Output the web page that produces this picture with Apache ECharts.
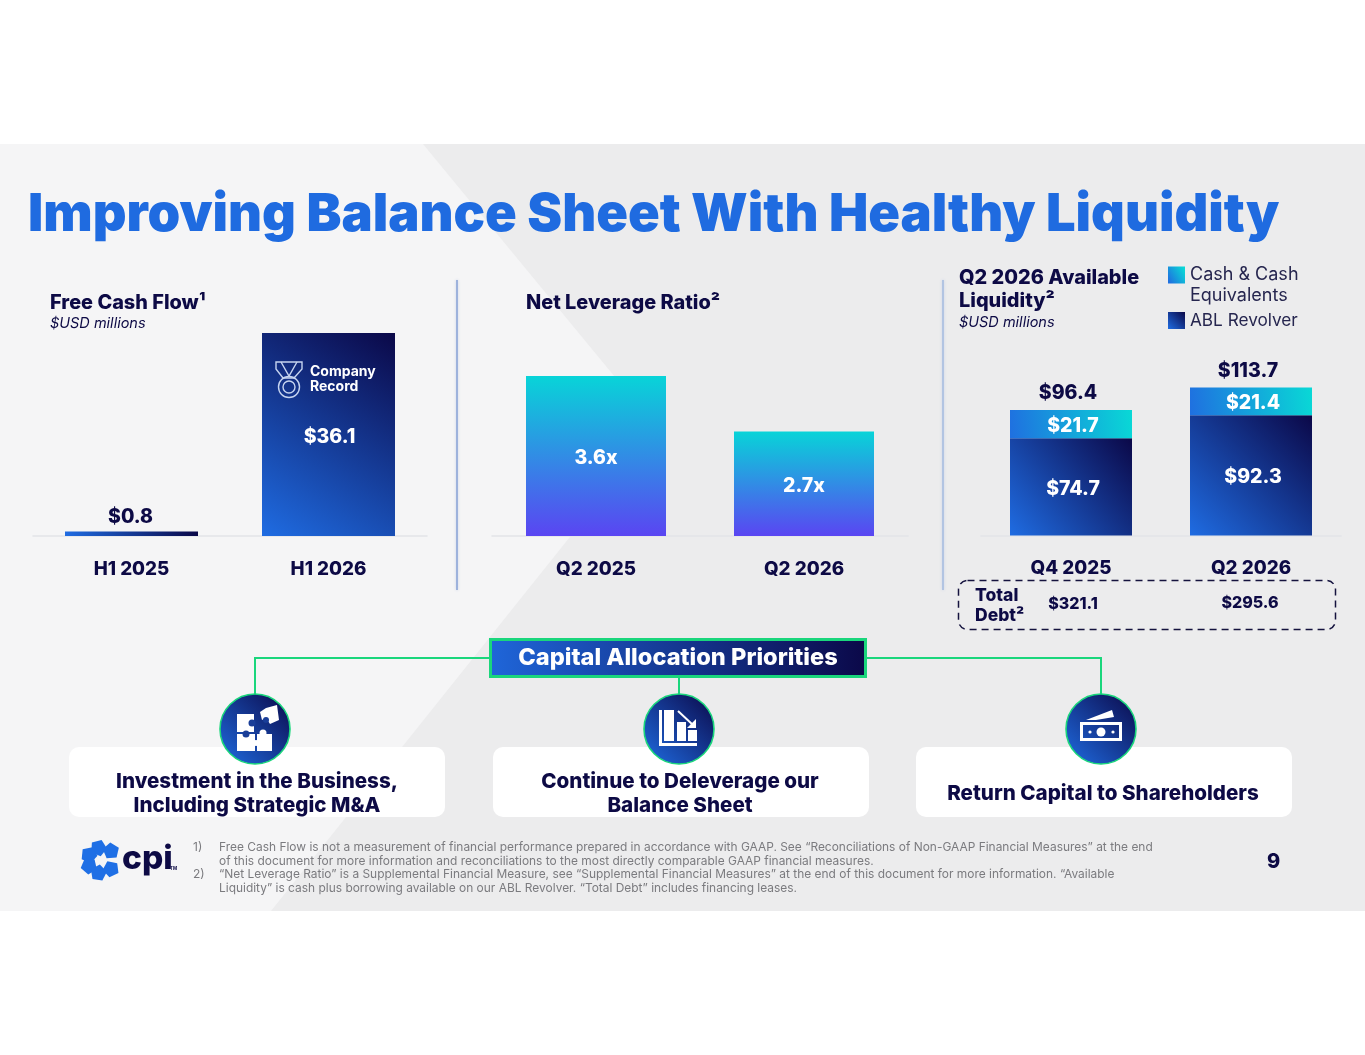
<!DOCTYPE html>
<html><head><meta charset="utf-8"><title>Improving Balance Sheet With Healthy Liquidity</title>
<style>html,body{margin:0;padding:0;background:#fff}#c{width:1365px;height:1055px}</style>
<script src="https://cdn.jsdelivr.net/npm/echarts@6/dist/echarts.min.js"></script></head>
<body><div id="c"></div>
<script>
// ---- data ----
const fcfCategories = ['H1 2025', 'H1 2026'];
const fcfValues = [0.8, 36.1];
const leverageCategories = ['Q2 2025', 'Q2 2026'];
const leverageValues = [3.6, 2.7];
const liquidityCategories = ['Q4 2025', 'Q2 2026'];
const cashValues = [21.7, 21.4];
const ablValues = [74.7, 92.3];
const liquidityTotals = [96.4, 113.7];
const totalDebt = ['$321.1', '$295.6'];
const priorities = ['Investment in the Business,\nIncluding Strategic M&A', 'Continue to Deleverage our\nBalance Sheet', 'Return Capital to Shareholders'];
const footnotes = [
 'Free Cash Flow is not a measurement of financial performance prepared in accordance with GAAP. See \u201cReconciliations of Non-GAAP Financial Measures\u201d at the end',
 'of this document for more information and reconciliations to the most directly comparable GAAP financial measures.',
 '\u201cNet Leverage Ratio\u201d is a Supplemental Financial Measure, see \u201cSupplemental Financial Measures\u201d at the end of this document for more information. \u201cAvailable',
 'Liquidity\u201d is cash plus borrowing available on our ABL Revolver. \u201cTotal Debt\u201d includes financing leases.'
];

// ---- style ----
const FONT = 'Inter, "Open Sans", sans-serif';
const NAVY = '#0D0A45';
const GREEN = '#1AD67C';
const G = echarts.graphic.LinearGradient;
const diag = (a, b) => new G(0, 1, 1, 0, [{offset: 0, color: a}, {offset: 1, color: b}]);
const navyGrad = () => diag('#1F6CE2', '#0B0848');
const cashGrad = () => new G(0, 0.8, 1, 0.2, [{offset: 0, color: '#1F70E0'}, {offset: 1, color: '#09D8D6'}]);
const levGrad = new G(0, 0, 0, 1, [{offset: 0, color: '#08D4D8'}, {offset: 1, color: '#5A45F2'}]);

const txt = (x, y, text, size, weight, fill, align, extra) => ({
  type: 'text', z: (extra && extra.z) || 5,
  style: Object.assign({x, y, text, fontSize: size, fontWeight: weight, fontFamily: FONT, fill,
    align: align || 'left', textAlign: align || 'left', verticalAlign: 'middle', textVerticalAlign: 'middle'}, extra || {})
});
const pent = (cx, cy, r, rot) => {
  const pts = [];
  for (let i = 0; i < 5; i++) { const a = rot + i * 2 * Math.PI / 5; pts.push([cx + r * Math.cos(a), cy + r * Math.sin(a)]); }
  return {type: 'polygon', z: 5, shape: {points: pts}, style: {fill: '#1F6FE5'}};
};
const line = (pts, w, c, z) => ({type: 'polyline', z: z || 3, shape: {points: pts}, style: {stroke: c || GREEN, lineWidth: w || 2, fill: 'none'}});
const rect = (x, y, w, h, fill, z, r) => ({type: 'rect', z: z || 5, shape: {x, y, width: w, height: h, r: r || 0}, style: {fill}});
const circ = (cx, cy, r, fill, z) => ({type: 'circle', z: z || 7, shape: {cx, cy, r}, style: {fill}});

const graphics = [
  // slide background
  rect(0, 144, 1365, 767, '#F5F5F6', -5),
  {type: 'polygon', z: -4, shape: {points: [[423,144],[1365,144],[1365,911],[271,911],[657,428]]}, style: {fill: '#ECECED'}},
  // dividers
  {type: 'line', z: 1, shape: {x1: 457, y1: 280, x2: 457, y2: 590}, style: {stroke: '#9DB2DC', lineWidth: 2, shadowBlur: 3, shadowColor: '#C9D3E6'}},
  {type: 'line', z: 1, shape: {x1: 943, y1: 280, x2: 943, y2: 590}, style: {stroke: '#B2C4E2', lineWidth: 2, shadowBlur: 3, shadowColor: '#C9D3E6'}},
  // panel headings
  txt(50, 303, 'Free Cash Flow\u00B9', 19.9, 800, NAVY),
  txt(50, 323.5, '$USD millions', 14.5, 400, NAVY, 'left', {fontStyle: 'italic'}),
  txt(526, 303, 'Net Leverage Ratio\u00B2', 19.9, 800, NAVY),
  txt(959, 278.5, 'Q2 2026 Available', 19.9, 800, NAVY),
  txt(959, 301.5, 'Liquidity\u00B2', 19.9, 800, NAVY),
  txt(959, 322.5, '$USD millions', 14.5, 400, NAVY, 'left', {fontStyle: 'italic'}),
  txt(1190, 296, 'Equivalents', 18, 400, '#26264F'),
  // record badge
  txt(310, 371.5, 'Company', 14, 700, '#fff', 'left', {z: 10}),
  txt(310, 386.5, 'Record', 14, 700, '#fff', 'left', {z: 10}),
  {type: 'polygon', z: 10, shape: {points: [[276,362],[302,362],[302,369],[294,378],[283,378],[276,369]]}, style: {stroke: '#C6D4F0', lineWidth: 1.4, fill: 'none'}},
  line([[281,362],[289,376],[297,362]], 1.4, '#C6D4F0', 10),
  {type: 'circle', z: 10, shape: {cx: 289, cy: 387, r: 10.5}, style: {stroke: '#C6D4F0', lineWidth: 1.4, fill: 'none'}},
  {type: 'circle', z: 10, shape: {cx: 289, cy: 387, r: 6}, style: {stroke: '#C6D4F0', lineWidth: 1.4, fill: 'none'}},
  // total debt row
  {type: 'rect', z: 3, shape: {x: 958.5, y: 580.5, width: 377, height: 49, r: 9}, style: {stroke: '#15133F', lineWidth: 1.5, lineDash: [7, 5], fill: 'none'}},
  txt(975, 596, 'Total', 17.5, 800, NAVY),
  txt(975, 616, 'Debt\u00B2', 17.5, 800, NAVY),
  txt(1073, 604, totalDebt[0], 16, 800, NAVY, 'center'),
  txt(1250, 603, totalDebt[1], 16, 800, NAVY, 'center'),
  // capital allocation connectors
  line([[255, 695], [255, 658], [489, 658]]),
  line([[867, 658], [1101, 658], [1101, 695]]),
  line([[679, 677], [679, 695]]),
  {type: 'rect', z: 4, shape: {x: 490.5, y: 639.5, width: 375, height: 37}, style: {fill: new G(0, 0.5, 1, 0.5, [{offset: 0, color: '#1F66DA'}, {offset: 1, color: '#0B0848'}]), stroke: GREEN, lineWidth: 3}},
  txt(678, 658, 'Capital Allocation Priorities', 23.6, 800, '#fff', 'center'),
  // priority cards
  rect(69, 747, 376, 70, '#fff', 3, 10),
  rect(493, 747, 376, 70, '#fff', 3, 10),
  rect(916, 747, 376, 70, '#fff', 3, 10),
  txt(257, 782, priorities[0].split('\n')[0], 20.6, 800, NAVY, 'center'),
  txt(257, 806, priorities[0].split('\n')[1], 20.6, 800, NAVY, 'center'),
  txt(680, 782, priorities[1].split('\n')[0], 20.6, 800, NAVY, 'center'),
  txt(680, 806, priorities[1].split('\n')[1], 20.6, 800, NAVY, 'center'),
  txt(1103, 794, priorities[2], 20.6, 800, NAVY, 'center'),
  // icon discs
  ...[255, 679, 1101].map(cx => ({type: 'circle', z: 6, shape: {cx, cy: 729, r: 35}, style: {fill: diag('#1F6CE2', '#0B0848'), stroke: GREEN, lineWidth: 1.6}})),
  // puzzle icon
  rect(237, 714, 17, 18, '#fff', 7), rect(237, 734, 18, 17, '#fff', 7), rect(257, 734, 15, 17, '#fff', 7),
  circ(252, 723, 3.5, '#1A3E98', 8), circ(246, 734, 3.5, '#1A3E98', 8), circ(256, 743, 3, '#fff', 8), circ(263, 733, 3.5, '#fff', 8),
  {type: 'polygon', z: 7, shape: {points: [[260, 712], [266, 708], [277, 705], [279, 720], [270, 724], [266, 718], [262, 720]]}, style: {fill: '#fff'}},
  circ(266, 720, 3, '#1A3E98', 8),
  // chart icon
  rect(659, 710, 3, 36, '#fff', 7), rect(659, 743, 38, 3, '#fff', 7),
  rect(664, 710, 10, 31, '#fff', 7), rect(677, 722, 9, 19, '#fff', 7), rect(688, 730, 9, 11, '#fff', 7),
  {type: 'line', z: 7, shape: {x1: 678, y1: 711, x2: 693, y2: 725}, style: {stroke: '#fff', lineWidth: 2}},
  {type: 'polygon', z: 7, shape: {points: [[696, 728], [696, 719], [687, 728]]}, style: {fill: '#fff'}},
  // money icon
  {type: 'rect', z: 7, shape: {x: 1081.5, y: 723.5, width: 39, height: 16}, style: {fill: 'none', stroke: '#fff', lineWidth: 3}},
  circ(1101, 732, 4.5, '#fff'), circ(1090, 732, 1.6, '#fff'), circ(1113, 732, 1.6, '#fff'),
  {type: 'polygon', z: 7, shape: {points: [[1086, 720], [1112, 710], [1114, 717], [1096, 720]]}, style: {fill: '#fff'}},
  // logo
  pent(98.5, 848, 8.5, -1.2), pent(111, 851, 8.5, -0.4), pent(89, 855, 8.5, 0.1),
  pent(89, 866, 8.5, 0.4), pent(98.5, 873, 8.5, 1.1), pent(111, 869, 8.5, 0.5),
  txt(122, 858.5, 'cpi', 33.5, 800, NAVY),
  txt(170, 869, 'TM', 4.5, 700, NAVY),
  // footnotes
  txt(193, 847, '1)', 12, 400, '#7B7B7F'),
  txt(193, 874, '2)', 12, 400, '#7B7B7F'),
  txt(219, 847.5, footnotes[0], 11.94, 400, '#7B7B7F'),
  txt(219, 861, footnotes[1], 11.94, 400, '#7B7B7F'),
  txt(219, 874.5, footnotes[2], 11.94, 400, '#7B7B7F'),
  txt(219, 888.5, footnotes[3], 11.94, 400, '#7B7B7F'),
  txt(1273.5, 862, '9', 20, 800, NAVY, 'center')
];

const xAxisOf = (gridIndex, data) => ({
  type: 'category', gridIndex, data,
  axisLine: {lineStyle: {color: '#E2E3E8', width: 1.5}}, axisTick: {show: false},
  axisLabel: {fontFamily: FONT, fontWeight: 800, fontSize: 18.8, color: NAVY, margin: 23.5}
});
const valLabel = (fmt, color, position, size, offset) => ({
  show: true, position, formatter: fmt, color, fontFamily: FONT, fontWeight: 800, fontSize: size || 19.5, offset: offset || [0, 0]
});

const option = {
  backgroundColor: '#ffffff',
  animation: false,
  title: {
    text: 'Improving Balance Sheet With Healthy Liquidity', left: 23, top: 184.5,
    textStyle: {fontFamily: FONT, fontWeight: 900, fontSize: 52.4, color: '#1F6BE0'}
  },
  legend: [
    {left: 1168, top: 266, padding: 0, itemWidth: 17, itemHeight: 17, icon: 'rect', selectedMode: false, data: ['Cash & Cash Equivalents'], formatter: () => 'Cash & Cash',
     textStyle: {fontFamily: FONT, fontSize: 18, color: '#26264F', padding: [3, 0, 0, 0]}},
    {left: 1168, top: 312, padding: 0, itemWidth: 17, itemHeight: 17, icon: 'rect', selectedMode: false, data: ['ABL Revolver'],
     textStyle: {fontFamily: FONT, fontSize: 17.2, color: '#26264F', padding: [2, 0, 0, 0]}}
  ],
  grid: [
    {left: 33, width: 394, top: 333, height: 203},
    {left: 492, width: 416, top: 376, height: 160},
    {left: 981, width: 360, top: 387.5, height: 148}
  ],
  xAxis: [xAxisOf(0, fcfCategories), xAxisOf(1, leverageCategories), xAxisOf(2, liquidityCategories)],
  yAxis: [
    {type: 'value', gridIndex: 0, min: 0, max: 36.1, show: false},
    {type: 'value', gridIndex: 1, min: 1, max: 3.6, show: false},
    {type: 'value', gridIndex: 2, min: 0, max: 113.7, show: false}
  ],
  series: [
    {name: 'Free Cash Flow', type: 'bar', xAxisIndex: 0, yAxisIndex: 0, barWidth: 133,
     data: [
       {value: fcfValues[0], itemStyle: {color: new G(0, 0.5, 1, 0.5, [{offset: 0, color: '#1F6CE2'}, {offset: 1, color: '#0B0848'}])},
        label: valLabel(p => '$' + p.value.toFixed(1), NAVY, 'top', 19.5, [-1, 0.5])},
       {value: fcfValues[1], itemStyle: {color: navyGrad()}, label: valLabel(p => '$' + p.value.toFixed(1), '#fff', 'inside', 19.5, [1, 2.5])}
     ]},
    {name: 'Net Leverage Ratio', type: 'bar', xAxisIndex: 1, yAxisIndex: 1, barWidth: 140,
     itemStyle: {color: levGrad},
     label: valLabel(p => p.value.toFixed(1) + 'x', '#fff', 'inside', 19.5, [0, 2]),
     data: leverageValues},
    {name: 'ABL Revolver', type: 'bar', stack: 'liq', xAxisIndex: 2, yAxisIndex: 2, barWidth: 122,
     itemStyle: {color: navyGrad()},
     label: valLabel(p => '$' + p.value.toFixed(1), '#fff', 'inside', 19.5, [2, 2]),
     data: ablValues},
    {name: 'Cash & Cash Equivalents', type: 'bar', stack: 'liq', xAxisIndex: 2, yAxisIndex: 2, barWidth: 122,
     itemStyle: {color: cashGrad()},
     label: valLabel(p => '$' + p.value.toFixed(1), '#fff', 'inside', 19.5, [2, 2]),
     data: cashValues},
    {name: 'Total Liquidity', type: 'line', xAxisIndex: 2, yAxisIndex: 2, symbol: 'circle', symbolSize: 1, z: 1,
     lineStyle: {width: 0, opacity: 0}, itemStyle: {color: 'transparent'},
     label: valLabel(p => '$' + p.value.toFixed(1), NAVY, 'top', 19.5, [-3, -1]),
     data: liquidityTotals}
  ],
  graphic: graphics
};
const chart = echarts.init(document.getElementById('c'), null, {renderer: 'canvas'});
chart.setOption(option);
</script></body></html>
